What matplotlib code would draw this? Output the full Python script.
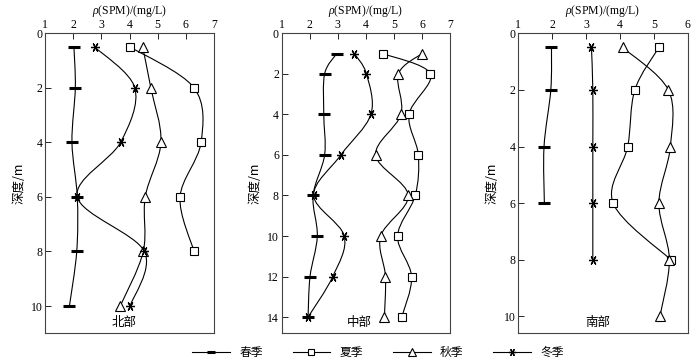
import matplotlib
matplotlib.use("Agg")
import matplotlib.pyplot as plt
import numpy as np
from matplotlib.path import Path
import matplotlib.patches as patches
from matplotlib.lines import Line2D

plt.rcParams['font.family'] = ['Liberation Serif', 'Noto Sans CJK SC']
plt.rcParams['mathtext.fontset'] = 'custom'
plt.rcParams['mathtext.it'] = 'Liberation Serif:italic'
plt.rcParams['mathtext.rm'] = 'Liberation Serif'

seasons = ["春季", "夏季", "秋季", "冬季"]
regions = ["北部", "中部", "南部"]

# north
north_depth = [0.5, 2, 4, 6, 8, 10]
north_spring = [2.02, 2.07, 1.95, 2.14, 2.12, 1.86]
north_summer = [4.02, 6.30, 6.55, 5.80, 6.30]
north_autumn = [4.47, 4.76, 5.12, 4.56, 4.49, 3.67]
north_winter = [2.76, 4.19, 3.68, 2.14, 4.53, 4.02]

# middle
mid_depth = [1, 2, 4, 6, 8, 10, 12, 14]
mid_spring = [2.96, 2.53, 2.50, 2.53, 2.12, 2.27, 2.01, 1.94]
mid_summer = [4.60, 6.30, 5.54, 5.87, 5.76, 5.13, 5.63, 5.28]
mid_autumn = [6.00, 5.16, 5.25, 4.35, 5.51, 4.53, 4.70, 4.66]
mid_winter = [3.59, 4.02, 4.18, 3.11, 2.14, 3.23, 2.82, 1.94]

# south
south_depth = [0.5, 2, 4, 6, 8, 10]
south_spring = [1.98, 1.96, 1.76, 1.77]
south_summer = [5.15, 4.44, 4.23, 3.80, 5.50]
south_autumn = [4.08, 5.43, 5.49, 5.15, 5.46, 5.18]
south_winter = [3.16, 3.20, 3.20, 3.20, 3.20]

panels = [
    (north_depth, [north_spring, north_summer, north_autumn, north_winter],
     (1, 7), 11, [0, 2, 4, 6, 8, 10]),
    (mid_depth, [mid_spring, mid_summer, mid_autumn, mid_winter],
     (1, 7), 14.8, [0, 2, 4, 6, 8, 10, 12, 14]),
    (south_depth, [south_spring, south_summer, south_autumn, south_winter],
     (1, 6), 10.6, [0, 2, 4, 6, 8, 10]),
]

markers = ['_', 's', '^', (6, 2, 90)]
msizes = [8, 5.5, 7, 6.5]
mews = [2.2, 0.8, 0.8, 0.9]


def smooth_path(xs, ys):
    # catmull-rom style bezier through the points, x as function of depth
    pts = np.column_stack([xs, ys]).astype(float)
    n = len(pts)
    verts = [pts[0]]
    codes = [Path.MOVETO]
    for i in range(n - 1):
        p0 = pts[i - 1] if i > 0 else pts[i]
        p1 = pts[i]
        p2 = pts[i + 1]
        p3 = pts[i + 2] if i + 2 < n else pts[i + 1]
        c1 = p1 + (p2 - p0) / 6.0
        c2 = p2 - (p3 - p1) / 6.0
        verts += [c1, c2, p2]
        codes += [Path.CURVE4] * 3
    return Path(verts, codes)


fig = plt.figure(figsize=(7, 3.64), dpi=100)
lefts = [0.0647, 0.4024, 0.7404]
widths = [0.2406, 0.2405, 0.242]
label_x = [0.47, 0.46, 0.47]

for k, (depth, series, xlim, ymax, yticks) in enumerate(panels):
    ax = fig.add_axes([lefts[k], 0.0843, widths[k], 0.8242])
    for j, vals in enumerate(series):
        d = depth[:len(vals)]
        path = smooth_path(vals, d)
        ax.add_patch(patches.PathPatch(path, facecolor='none',
                                       edgecolor='black', lw=0.8))
        ax.plot(vals, d, linestyle='none', marker=markers[j],
                ms=msizes[j], mew=mews[j], mfc='white' if j in (1, 2) else 'black',
                mec='black', color='black', zorder=3)
    ax.set_xlim(*xlim)
    ax.set_ylim(ymax, 0)
    ax.set_xticks(range(xlim[0], xlim[1] + 1))
    ax.set_yticks(yticks)
    ax.xaxis.tick_top()
    ax.xaxis.set_label_position('top')
    ax.tick_params(direction='in', length=4, width=0.6, labelsize=8.5, pad=2,
                   top=True, bottom=False, left=True, right=False)
    for s in ax.spines.values():
        s.set_linewidth(0.8)
        s.set_color('#444444')
    ax.set_xlabel(r'$\it{\rho}$(SPM)/(mg/L)', fontsize=8.5, labelpad=3)
    ax.set_ylabel('深度/m', fontsize=9, labelpad=4,
                  family=['Noto Sans CJK SC', 'DejaVu Sans'])
    ax.text(label_x[k], 0.035, regions[k], transform=ax.transAxes,
            ha='center', va='center', fontsize=9,
            family=['Noto Sans CJK SC', 'DejaVu Sans'])

handles = []
for j in range(4):
    handles.append(Line2D([], [], color='black', lw=0.8, marker=markers[j],
                          ms=msizes[j] * 0.8, mew=mews[j],
                          mfc='white' if j in (1, 2) else 'black', mec='black'))
fig.legend(handles, seasons, loc='lower center', ncol=4, frameon=False,
           bbox_to_anchor=(0.54, -0.015), handlelength=3.2, columnspacing=2.5,
           prop={'family': 'Noto Sans CJK SC', 'size': 8.5})

fig.savefig('out.png', dpi=100)
